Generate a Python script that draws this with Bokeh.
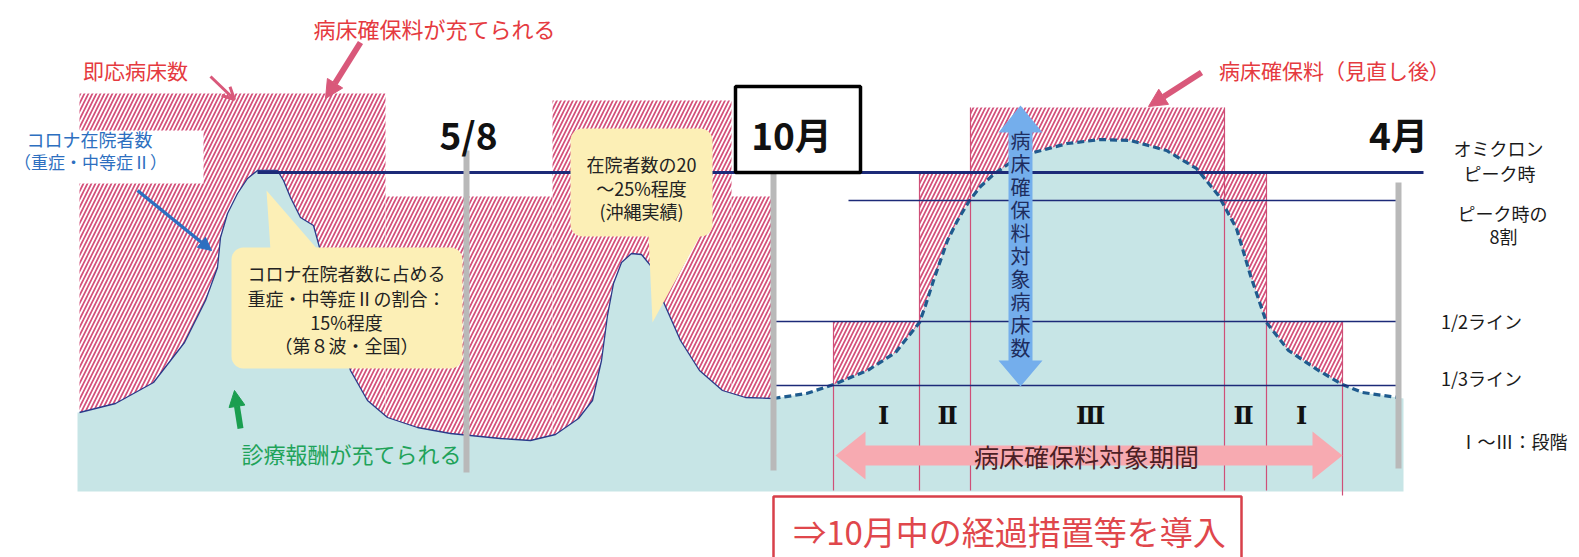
import numpy as np
from bokeh.plotting import figure
from bokeh.models import Range1d, Arrow, NormalHead, OpenHead
from bokeh.core.properties import value
from bokeh.embed import file_html
from bokeh.resources import INLINE

W, H = 1579, 557
JP = "Noto Sans CJK JP"

# ---------------- data (diagram units = pixels of the reference) ----------------
# 即応病床数 (immediately available beds) before October: step blocks
cap_edges = [79, 385, 552, 731, 773]
cap_tops = [93, 196, 100, 196]
# 病床確保料 (after revision) blocks by stage after October
stage_edges = [833, 919, 970, 1224, 1266, 1342]
stage_tops = [321, 172, 107, 172, 321]
stage_labels = ["Ⅰ", "Ⅱ", "Ⅲ", "Ⅱ", "Ⅰ"]
stage_label_x = [883, 947, 1090, 1243, 1301]

# コロナ在院者数 (observed waves, left)
curve_left_x = [79, 115, 153, 184, 205, 217, 220, 227, 237, 247, 257, 277, 283, 290, 300, 313,
                328, 340, 350, 367, 387, 417, 450, 500, 530, 555, 578, 592, 601, 607, 613, 621,
                631, 641, 650, 661, 680, 699, 722, 745, 773]
curve_left_y = [412, 403, 382, 342, 300, 267, 237, 213, 193, 178, 170, 170, 180, 197, 217, 225,
                280, 335, 370, 400, 417, 427, 433, 438, 440, 434, 418, 400, 360, 315, 283, 262,
                253, 254, 265, 297, 340, 370, 390, 397, 398]
# assumed wave after October (dashed)
curve_right_x = [773, 806, 833, 867, 895, 919, 925, 933, 947, 957, 969, 980, 993, 1010, 1033,
                 1067, 1100, 1130, 1166, 1196, 1218, 1236, 1250, 1266, 1288, 1318, 1342, 1362, 1397]
curve_right_y = [398, 393, 384, 370, 352, 322, 305, 280, 240, 220, 200, 186, 174, 162, 152,
                 143, 139, 140, 150, 168, 195, 228, 275, 322, 350, 370, 384, 392, 397]

# reference lines
peak_line = dict(y=172, x0=257, x1=1423)
ref_lines_y = [200, 321, 385]          # ピーク時の8割, 1/2ライン, 1/3ライン
ref_lines_x0 = [848, 773, 773]
ref_lines_x1 = [1397, 1397, 1397]

# date markers
date_labels = ["5/8", "10月", "4月"]
date_label_x = [468, 791, 1398]
date_line_x = [466, 773, 1398]
date_line_top = [150, 167, 182]
date_line_bot = [472, 470, 468]

# right-hand legend texts
legend_texts = ["オミクロン", "ピーク時", "ピーク時の", "8割", "1/2ライン", "1/3ライン", "Ⅰ～Ⅲ：段階"]
legend_x = [1498, 1499, 1502, 1503, 1481, 1481, 1513]
legend_y = [147, 172, 212, 235, 320, 377, 440]

vert_arrow_text = list("病床確保料対象病床数")

# ---------------- figure ----------------
p = figure(width=W, height=H, x_range=Range1d(0, W), y_range=Range1d(H, 0),
           output_backend="svg", toolbar_location=None, x_axis_type=None, y_axis_type=None,
           min_border=0, background_fill_color="white", border_fill_color="white")
p.grid.visible = False
p.outline_line_color = None

HATCH = dict(fill_color="white", hatch_pattern="right_diagonal_line", hatch_color="#d4507a",
             hatch_scale=8, hatch_weight=1.7, line_color=None)
BOTTOM = 490

# hatched bed blocks
p.quad(left=cap_edges[:-1], right=cap_edges[1:], top=cap_tops, bottom=[BOTTOM] * len(cap_tops), **HATCH)
p.quad(left=stage_edges[:-1], right=stage_edges[1:], top=stage_tops,
       bottom=[BOTTOM] * len(stage_tops), **HATCH)
# white patch behind left label
p.quad(left=[77], right=[203], top=[130], bottom=[183], fill_color="white", line_color=None)

# teal inpatient area (slightly overlapping the hatch edge to avoid bleed)
teal_x = [77] + curve_left_x + curve_right_x + [1403, 1403, 77]
teal_y = [curve_left_y[0]] + curve_left_y + curve_right_y + [398, BOTTOM + 1, BOTTOM + 1]
p.patch(teal_x, teal_y, fill_color="#c7e5e6", line_color=None)

# stage divider lines
p.segment(x0=stage_edges, x1=stage_edges, y0=[min(stage_tops[max(i - 1, 0)], stage_tops[min(i, 4)]) for i in range(6)],
          y1=[BOTTOM] * 5 + [495], line_color="#cf4f78", line_width=1.2)

# curves
p.line(curve_left_x, curve_left_y, line_color="#2a3a8a", line_width=1.3)
p.line(curve_right_x, curve_right_y, line_color="#1f5b8e", line_width=3.2, line_dash="7 4")

# reference lines
p.segment(x0=[peak_line["x0"]], x1=[peak_line["x1"]], y0=[peak_line["y"]], y1=[peak_line["y"]],
          line_color="#1c2a78", line_width=3)
p.segment(x0=ref_lines_x0, x1=ref_lines_x1, y0=ref_lines_y, y1=ref_lines_y,
          line_color="#1c2a78", line_width=1.5)

# grey date lines
p.segment(x0=date_line_x, x1=date_line_x, y0=date_line_top, y1=date_line_bot,
          line_color="#b9b9b9", line_width=6)


def rounded(x0, x1, y0, y1, r, n=8):
    xs, ys = [], []
    corners = [(x1 - r, y0 + r, -90, 0), (x1 - r, y1 - r, 0, 90), (x0 + r, y1 - r, 90, 180), (x0 + r, y0 + r, 180, 270)]
    for cx, cy, a0, a1 in corners:
        for a in np.linspace(np.radians(a0), np.radians(a1), n):
            xs.append(cx + r * np.cos(a))
            ys.append(cy + r * np.sin(a))
    return xs, ys


YEL = "#fcefb6"
# callout 1
bx, by = rounded(231, 462, 247, 368, 12)
p.patch(bx, by, fill_color=YEL, line_color=None)
p.patch([270, 266, 318], [250, 190, 250], fill_color=YEL, line_color=None)
# callout 2
bx, by = rounded(570, 712, 128, 236, 12)
p.patch(bx, by, fill_color=YEL, line_color=None)
p.patch([648, 652, 700], [234, 322, 234], fill_color=YEL, line_color=None)

# 10月 box
p.quad(left=[735], right=[860], top=[86], bottom=[172], fill_color="white", line_color="black", line_width=3.5)

# vertical blue double arrow
cx = 1020
vx = [cx, cx + 22, cx + 12, cx + 12, cx + 22, cx, cx - 22, cx - 12, cx - 12, cx - 22]
vy = [105, 132, 132, 360, 360, 386, 360, 360, 132, 132]
p.patch(vx, vy, fill_color="#74aeec", line_color=None)

# horizontal pink double arrow
cy = 455
hx = [835, 865, 865, 1312, 1312, 1342, 1312, 1312, 865, 865]
hy = [cy, cy - 24, cy - 10, cy - 10, cy - 24, cy, cy + 24, cy + 10, cy + 10, cy + 24]
p.patch(hx, hy, fill_color="#f7aab1", line_color=None)

# ---------------- texts ----------------
def txt(x, y, t, size, color, style="normal", font=JP, align="center"):
    p.text(x=x if isinstance(x, list) else [x], y=y if isinstance(y, list) else [y],
           text=t if isinstance(t, list) else [t], text_font=value(font),
           text_font_size=f"{size}px", text_color=color, text_font_style=style,
           text_align=align, text_baseline="middle")


RED = "#e53a40"
txt(434, 27, "病床確保料が充てられる", 22, RED)
txt(135, 69, "即応病床数", 21, RED)
txt(1334, 69, "病床確保料（見直し後）", 21, RED)

BLUE = "#2d6fc0"
txt(89, 138, "コロナ在院者数", 18, BLUE)
txt(90, 161, "（重症・中等症Ⅱ）", 17, BLUE)

txt([346] * 4, [272, 297, 321, 344],
    ["コロナ在院者数に占める", "重症・中等症Ⅱの割合：", "15%程度", "（第８波・全国）"], 18, "#222222")
txt([641] * 3, [163, 187, 210], ["在院者数の20", "～25%程度", "(沖縄実績)"], 18, "#222222")

txt(351, 452, "診療報酬が充てられる", 22, "#1fa35a")

txt(date_label_x, [133] * 3, date_labels, 37, "#111111", style="bold")

txt(legend_x, legend_y, legend_texts, 18, "#1a1a1a")

txt(stage_label_x, [415] * 5, stage_labels, 24, "#111111", style="bold", font="DejaVu Serif")

txt([cx] * len(vert_arrow_text), [140 + 23 * i for i in range(len(vert_arrow_text))],
    vert_arrow_text, 20, "#1e2d5e")

txt(1086, 455, "病床確保料対象期間", 25, "#4d1f25")

# bottom box
p.quad(left=[773], right=[1241], top=[496], bottom=[565], fill_color="white", line_color="#d8404a", line_width=2.5)
txt(1009, 530, "⇒10月中の経過措置等を導入", 33, "#e0474c")

# ---------------- pointer arrows ----------------
PINK = "#d9587a"
p.add_layout(Arrow(end=NormalHead(size=18, fill_color=PINK, line_color=PINK), x_start=360, y_start=42,
                   x_end=325, y_end=98, line_color=PINK, line_width=6))
p.add_layout(Arrow(end=OpenHead(size=12, line_color=PINK, line_width=3), x_start=210, y_start=76,
                   x_end=234, y_end=99, line_color=PINK, line_width=3))
p.add_layout(Arrow(end=NormalHead(size=18, fill_color=PINK, line_color=PINK), x_start=1201, y_start=72,
                   x_end=1148, y_end=106, line_color=PINK, line_width=6))
p.add_layout(Arrow(end=NormalHead(size=13, fill_color=BLUE, line_color=BLUE), x_start=137, y_start=190,
                   x_end=211, y_end=250, line_color=BLUE, line_width=3.5))
GREEN = "#1b9e50"
p.add_layout(Arrow(end=NormalHead(size=16, fill_color=GREEN, line_color=GREEN), x_start=240, y_start=428,
                   x_end=234, y_end=390, line_color=GREEN, line_width=6))

open("out.html", "w").write(file_html(p, INLINE))
